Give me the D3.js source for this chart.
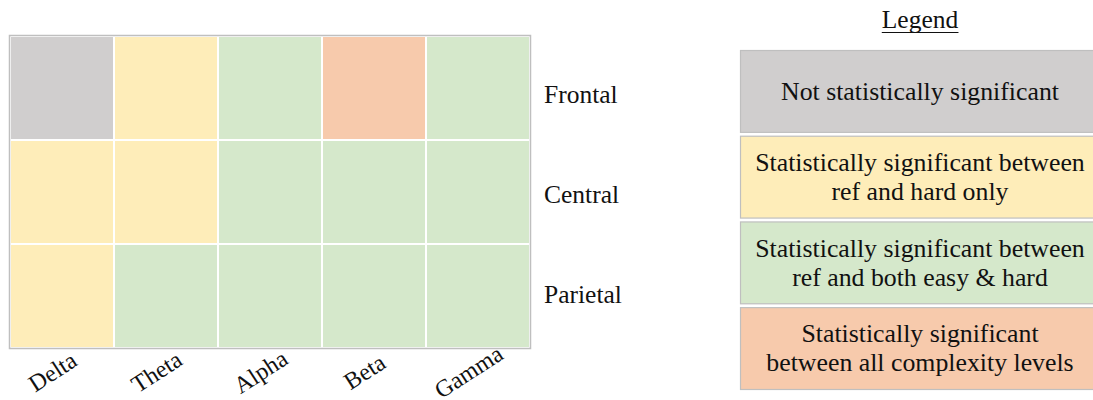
<!DOCTYPE html>
<html>
<head>
<meta charset="utf-8">
<script src="https://cdn.jsdelivr.net/npm/d3@7"></script>
<style>
  html, body { margin: 0; padding: 0; background: #fff; }
  svg { display: block; font-family: "Liberation Serif", "Times New Roman", serif; }
</style>
</head>
<body>
<svg id="chart" width="1093" height="400"></svg>
<script>
// Frequency bands (columns) and scalp regions (rows)
const bands = ["Delta", "Theta", "Alpha", "Beta", "Gamma"];
const regions = ["Frontal", "Central", "Parietal"];

// Significance level per region, one entry per band
// 0 = not significant, 1 = ref vs hard only, 2 = ref vs easy & hard, 3 = all levels
const frontal = [0, 1, 2, 3, 2];
const central = [1, 1, 2, 2, 2];
const parietal = [1, 2, 2, 2, 2];

const levelLabels = [
  ["Not statistically significant"],
  ["Statistically significant between", "ref and hard only"],
  ["Statistically significant between", "ref and both easy & hard"],
  ["Statistically significant", "between all complexity levels"]
];
const levelColors = ["#D0CECE", "#FEEDB9", "#D5E8CB", "#F7CAAC"];

const rows = [frontal, central, parietal];
const cells = [];
regions.forEach((r, i) => bands.forEach((b, j) => cells.push({ region: r, band: b, level: rows[i][j] })));

const svg = d3.select("#chart");
const color = d3.scaleOrdinal().domain([0, 1, 2, 3]).range(levelColors);

// Heatmap grid
const grid = { left: 10, top: 36, width: 520, height: 312 };
const x = d3.scaleBand().domain(bands).range([grid.left, grid.left + grid.width]);
const y = d3.scaleBand().domain(regions).range([grid.top, grid.top + grid.height]);

svg.append("rect")
  .attr("x", grid.left - 0.5).attr("y", grid.top - 0.5)
  .attr("width", grid.width + 1).attr("height", grid.height + 1)
  .attr("fill", "#fff").attr("stroke", "#BFBFBF").attr("stroke-width", 1.5);

svg.append("g").selectAll("rect").data(cells).join("rect")
  .attr("x", d => x(d.band) + 1)
  .attr("y", d => y(d.region) + 1)
  .attr("width", x.bandwidth() - 2)
  .attr("height", y.bandwidth() - 2)
  .attr("fill", d => color(d.level));

// Region labels on the right of the grid
const yLabel = d3.scalePoint().domain(regions).range([97, 297]);
svg.append("g").selectAll("text").data(regions).join("text")
  .attr("x", grid.left + grid.width + 14)
  .attr("y", d => yLabel(d))
  .attr("dominant-baseline", "middle")
  .attr("font-size", 25.5)
  .attr("fill", "#111")
  .text(d => d);

// Band labels under the grid, tilted
svg.append("g").selectAll("text").data(bands).join("text")
  .attr("transform", d => `translate(${x(d) + x.bandwidth() / 2 - 8},${grid.top + grid.height + 26}) rotate(-33)`)
  .attr("text-anchor", "middle")
  .attr("dominant-baseline", "middle")
  .attr("font-size", 24)
  .attr("fill", "#111")
  .text(d => d);

// Legend
const legendCx = 920;
const title = svg.append("text")
  .attr("x", legendCx).attr("y", 28)
  .attr("text-anchor", "middle")
  .attr("font-size", 25.5)
  .attr("fill", "#111")
  .text("Legend");
const tb = title.node().getBBox();
svg.append("line")
  .attr("x1", tb.x).attr("x2", tb.x + tb.width)
  .attr("y1", 32.5).attr("y2", 32.5)
  .attr("stroke", "#111").attr("stroke-width", 1);

const ly = d3.scaleBand().domain([0, 1, 2, 3]).range([50, 389]).paddingInner(0.045);
const items = svg.append("g").selectAll("g").data([0, 1, 2, 3]).join("g")
  .attr("transform", d => `translate(0,${ly(d)})`);

items.append("rect")
  .attr("x", 740.5).attr("y", 0.5)
  .attr("width", 380).attr("height", ly.bandwidth())
  .attr("fill", d => color(d))
  .attr("stroke", "#BFBFBF").attr("stroke-width", 1.2);

items.each(function(d) {
  const lines = levelLabels[d];
  const g = d3.select(this);
  const mid = ly.bandwidth() / 2 + 3;
  const lh = 29;
  lines.forEach((t, k) => {
    g.append("text")
      .attr("x", legendCx)
      .attr("y", mid + (k - (lines.length - 1) / 2) * lh)
      .attr("dominant-baseline", "middle")
      .attr("text-anchor", "middle")
      .attr("font-size", 25.8)
      .attr("fill", "#111")
      .text(t);
  });
});
</script>
</body>
</html>
